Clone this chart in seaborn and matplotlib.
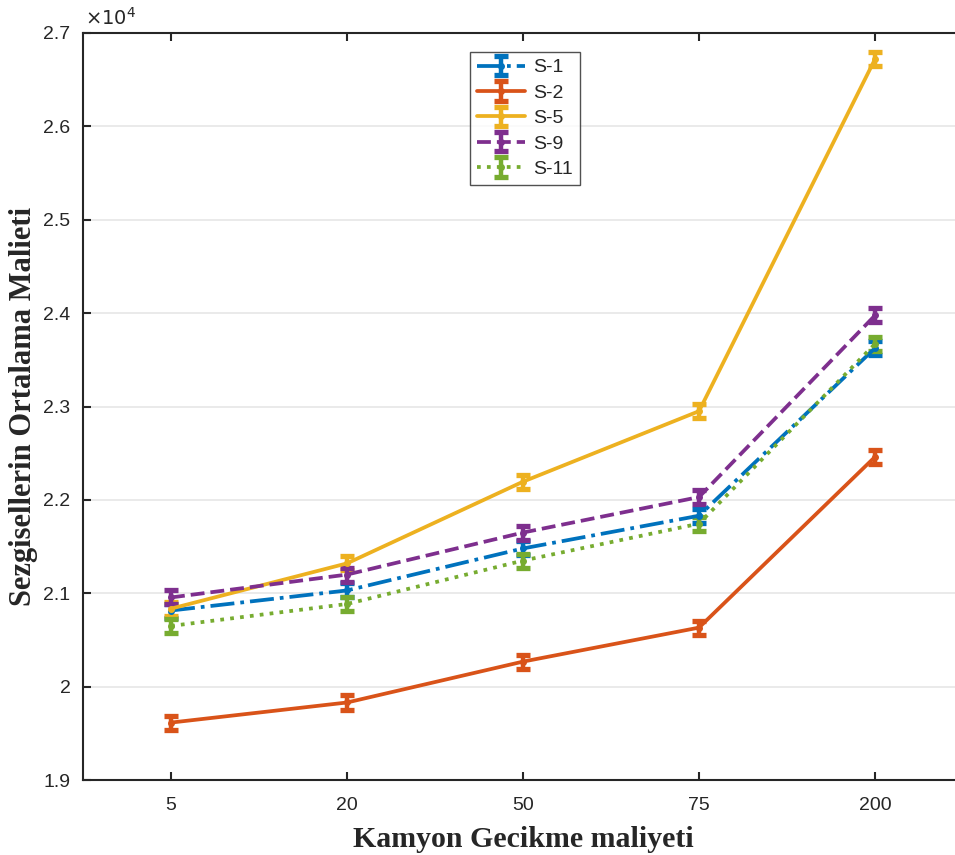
import matplotlib
matplotlib.use("Agg")
import matplotlib.pyplot as plt
import seaborn as sns
import numpy as np

sns.set_theme(style="white")
plt.rcParams['font.family'] = ['Liberation Sans', 'DejaVu Sans']

# x categories (equally spaced on the axis)
delay_costs = ["5", "20", "50", "75", "200"]

# mean cost per heuristic
s1 = [20815, 21030, 21480, 21830, 23625]
s2 = [19615, 19830, 20268, 20632, 22460]
s5 = [20835, 21320, 22195, 22950, 26720]
s9 = [20955, 21200, 21650, 22030, 23975]
s11 = [20650, 20885, 21350, 21745, 23670]

# error half-widths
err = [75, 75, 75, 75, 75]

series = [
    ("S-1", s1, "#0072BD", "-."),
    ("S-2", s2, "#D95319", "-"),
    ("S-5", s5, "#EDB120", "-"),
    ("S-9", s9, "#7E2F8E", "--"),
    ("S-11", s11, "#77AC30", ":"),
]

fig = plt.figure(figsize=(9.55, 8.55), dpi=100)
ax = fig.add_axes([83 / 955, 1 - 780 / 855, 880 / 955, 747 / 855])

x = np.arange(len(delay_costs))
for name, vals, color, ls in series:
    ax.errorbar(x, vals, yerr=err, color=color, linestyle=ls, linewidth=2.7,
                marker=".", markersize=8, elinewidth=3.2, capsize=5,
                capthick=3.8, label=name)

ax.set_xlim(-0.5, 4.5)
ax.set_ylim(19000, 27000)
ax.set_xticks(x)
ax.set_xticklabels(delay_costs)
yt = np.arange(19000, 27001, 1000)
ax.set_yticks(yt)
ax.set_yticklabels([f"{v / 1e4:g}" for v in yt])
ax.tick_params(direction="in", length=6, width=1.5, labelsize=14, colors="#262626",
               top=True, right=True, left=True, bottom=True)
ax.tick_params(axis="x", pad=12)
ax.tick_params(axis="y", pad=9)
ax.yaxis.grid(True, color="#e6e6e6", linewidth=1.2)
ax.xaxis.grid(False)
for sp in ax.spines.values():
    sp.set_color("#262626")
    sp.set_linewidth(1.5)

ax.text(0.002, 1.006, r"$\times10^4$", transform=ax.transAxes, fontsize=14,
        ha="left", va="bottom", color="#262626")

ax.set_xlabel("Kamyon Gecikme maliyeti", fontsize=21.5, fontweight="bold",
              family="Liberation Serif", color="#262626", labelpad=9)
ax.set_ylabel("Sezgisellerin Ortalama Malieti", fontsize=22, fontweight="bold",
              family="Liberation Serif", color="#262626")
ax.yaxis.set_label_coords(-0.051, 0.5)

leg = ax.legend(loc="upper left", bbox_to_anchor=(387 / 880, 1 - 19 / 747),
                fontsize=14, frameon=True, fancybox=False, edgecolor="#262626",
                handlelength=2.5, borderpad=0.35, labelspacing=0.4,
                handletextpad=0.4, borderaxespad=0)
leg.get_frame().set_linewidth(1.0)

fig.savefig("out.png", dpi=100, facecolor="white")
